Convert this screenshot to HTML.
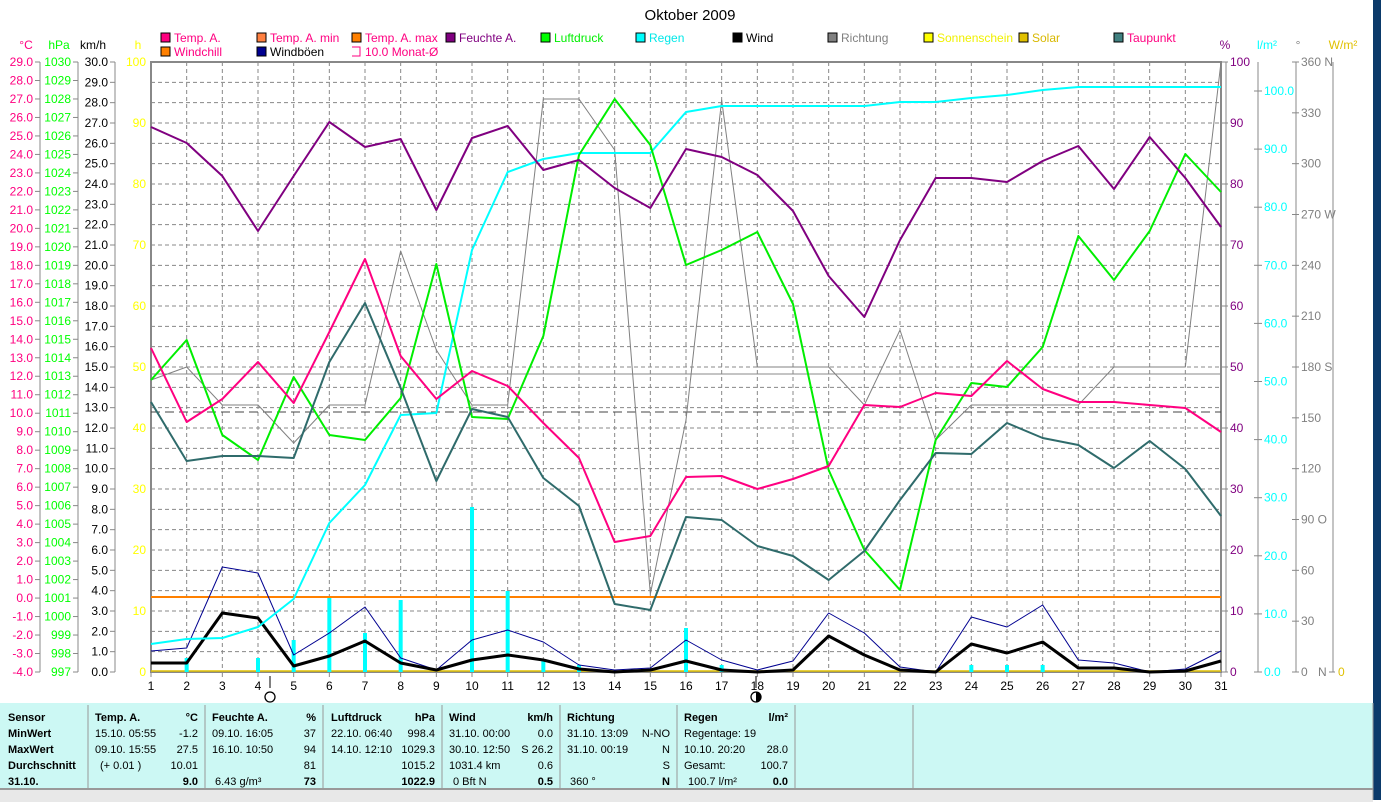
<!DOCTYPE html>
<html><head><meta charset="utf-8"><style>
body{margin:0;width:1381px;height:800px;overflow:hidden;background:#fff;font-family:"Liberation Sans",sans-serif}
svg{position:absolute;left:0;top:0}
text{font-family:"Liberation Sans",sans-serif}
</style></head><body>
<svg id="s" width="1381" height="800" xmlns="http://www.w3.org/2000/svg"></svg>
<script>
const S=document.getElementById('s');const NS='http://www.w3.org/2000/svg';
function el(t,a,txt){const e=document.createElementNS(NS,t);for(const k in a)e.setAttribute(k,a[k]);if(txt!==undefined)e.textContent=txt;S.appendChild(e);return e;}
function tx(x,y,s,c,anchor,extra){return el('text',Object.assign({x,y,fill:c,'text-anchor':anchor||'start','font-size':'11'},extra||{}),s);}
const L=151,R=1221,T=62,B=672,dx=(R-L)/30;
const X=d=>L+(d-1)*dx;
el('rect',{x:1373,y:0,width:8,height:800,fill:'#0b3a6a'});
tx(690,20,'Oktober 2009','#000','middle',{'font-size':'15'});
const leg=[[161,38,'#ff0080','Temp. A.','#ff0080'],[257,38,'#ff8040','Temp. A. min','#ff0080'],[352,38,'#ff8000','Temp. A. max','#ff0080'],[446,38,'#800080','Feuchte A.','#800080'],[541,38,'#00ff00','Luftdruck','#00ee00'],[636,38,'#00ffff','Regen','#00e8e8'],[733,38,'#000','Wind','#000'],[828,38,'#808080','Richtung','#808080'],[924,38,'#ffff00','Sonnenschein','#f0f000'],[1019,38,'#e0c000','Solar','#d8b800'],[1114,38,'#408080','Taupunkt','#ff0080'],[161,52,'#ff8000','Windchill','#ff0080'],[257,52,'#000090','Windböen','#000']];
leg.forEach(l=>{el('rect',{x:l[0],y:l[1]-5,width:9,height:9,fill:l[2],stroke:'#000','stroke-width':1});tx(l[0]+13,l[1]+4,l[3],l[4],'start',{'font-size':'12'});});
el('path',{d:'M352 47 h8 v9 h-8',fill:'none',stroke:'#ff0080'});tx(365,56,'10.0 Monat-Ø','#ff0080','start',{'font-size':'12'});
for(let i=1;i<30;i++){el('line',{x1:L,x2:R,y1:T+i*(B-T)/30,y2:T+i*(B-T)/30,stroke:'#888','stroke-dasharray':'4,3'});}
for(let d=2;d<31;d++){el('line',{x1:X(d),x2:X(d),y1:T,y2:B,stroke:'#888','stroke-dasharray':'4,3'});}
el('rect',{x:L,y:T,width:R-L,height:B-T,fill:'none',stroke:'#888','stroke-width':2});
function axis(xl,col,ys,labels){el('line',{x1:xl,x2:xl,y1:T,y2:B,stroke:'#888'});
 labels.forEach((s,i)=>{const y=ys[i];el('line',{x1:xl-5,x2:xl,y1:y,y2:y,stroke:'#888'});tx(xl-7,y+4,s,col,'end',{'font-size':'12'});});}
const ys33=[...Array(34).keys()].map(i=>T+i*(B-T)/33);
axis(40,'#ff0080',ys33,ys33.map((y,i)=>(29-i).toFixed(1)));
axis(78,'#00ff00',ys33,ys33.map((y,i)=>String(1030-i)));
const ys30=[...Array(31).keys()].map(i=>T+i*(B-T)/30);
axis(115,'#000',ys30,ys30.map((y,i)=>(30-i).toFixed(1)));
const ys10=[...Array(11).keys()].map(i=>T+i*(B-T)/10);
ys10.forEach((y,i)=>tx(146,y+4,String(100-i*10),'#ffff00','end',{'font-size':'12'}));
tx(26,49,'°C','#ff0080','middle',{'font-size':'12'});tx(59,49,'hPa','#00ff00','middle',{'font-size':'12'});tx(93,49,'km/h','#000','middle',{'font-size':'12'});tx(138,49,'h','#ffff00','middle',{'font-size':'12'});
el('line',{x1:1226,x2:1226,y1:T,y2:B,stroke:'#888'});
ys10.forEach((y,i)=>{el('line',{x1:1221,x2:1228,y1:y,y2:y,stroke:'#888'});tx(1230,y+4,String(100-i*10),'#800080','start',{'font-size':'12'});});
el('line',{x1:1258,x2:1258,y1:T,y2:B,stroke:'#888'});
for(let i=0;i<=10;i++){const y=B-i*58.1;el('line',{x1:1254,x2:1262,y1:y,y2:y,stroke:'#888'});tx(1264,y+4,(i*10).toFixed(1),'#00ffff','start',{'font-size':'12'});}
el('line',{x1:1296,x2:1296,y1:T,y2:B,stroke:'#888'});
const dl=['360 N','330','300','270 W','240','210','180 S','150','120','90  O','60','30','0'];
dl.forEach((s,i)=>{const y=T+i*(B-T)/12;el('line',{x1:1292,x2:1299,y1:y,y2:y,stroke:'#888'});tx(1301,y+4,s,'#808080','start',{'font-size':'12'});});
tx(1318,676,'N','#808080','start',{'font-size':'12'});
el('line',{x1:1333,x2:1333,y1:T,y2:B,stroke:'#888'});el('line',{x1:1329,x2:1335,y1:B,y2:B,stroke:'#888'});tx(1338,676,'0','#e0c000','start',{'font-size':'12'});
tx(1225,49,'%','#800080','middle',{'font-size':'12'});tx(1267,49,'l/m²','#00ffff','middle',{'font-size':'12'});tx(1298,49,'°','#808080','middle',{'font-size':'12'});tx(1343,49,'W/m²','#e0c000','middle',{'font-size':'12'});
for(let d=1;d<=31;d++){el('line',{x1:X(d),x2:X(d),y1:B,y2:B+5,stroke:'#888'});tx(X(d),690,String(d),'#000','middle',{'font-size':'12'});}
el('line',{x1:270,x2:270,y1:676,y2:688,stroke:'#000'});
el('circle',{cx:270,cy:697,r:5,fill:'none',stroke:'#000','stroke-width':1.3});
el('circle',{cx:756,cy:697,r:5,fill:'#fff',stroke:'#000','stroke-width':1.3});el('path',{d:'M756 692 a5 5 0 0 1 0 10z',fill:'#000'});
el('line',{x1:756,x2:756,y1:676,y2:688,stroke:'#000'});
el('line',{x1:L,x2:R,y1:374,y2:374,stroke:'#888'});
el('line',{x1:L,x2:R,y1:412,y2:412,stroke:'#444','stroke-dasharray':'9,5'});
el('line',{x1:L,x2:R,y1:597,y2:597,stroke:'#ff8000','stroke-width':2});
el('line',{x1:L,x2:R,y1:671,y2:671,stroke:'#e0c000','stroke-width':1.5});
function line(a,c,w){el('polyline',{points:a.map((y,i)=>X(i+1)+','+y).join(' '),fill:'none',stroke:c,'stroke-width':w,'stroke-linejoin':'round'});}
[[2,658],[4,658],[5,640],[6,598],[7,633],[8,600],[10,507],[11,591],[12,660],[13,665],[16,628],[17,665],[24,665],[25,665],[26,665]].forEach(b=>el('rect',{x:X(b[0])-2,y:b[1],width:4,height:B-b[1],fill:'#00ffff'}));
line([380,367,405,405,443,405,405,251,350,405,405,99,99,150,594,420,100,367,367,367,405,330,440,405,405,405,405,367,367,367,62],'#808080',1);
line([651,648,567,573,655,633,607,658,670,640,630,642,665,670,668,640,660,670,661,613,633,667,672,617,627,605,660,663,672,669,651],'#000090',1);
line([663,663,613,618,666,656,641,663,670,660,655,660,669,672,670,661,670,672,670,636,655,670,672,644,653,642,668,668,672,671,661],'#000',3);
line([644,639,638,627,599,523,485,415,413,250,172,159,153,153,153,112,106,106,106,106,106,102,102,98,95,90,87,87,87,87,87],'#00ffff',2);
line([380,340,435,460,377,435,440,398,264,417,419,336,155,99,145,265,250,232,304,470,550,590,440,383,387,347,236,280,231,154,192],'#00ee00',2);
line([402,461,456,456,458,362,303,388,481,409,417,478,506,604,610,517,520,546,556,580,551,500,453,454,423,438,445,468,441,469,516],'#2f6b6b',2);
line([348,422,399,362,403,332,259,356,399,371,386,423,458,542,536,477,476,489,479,466,405,407,393,396,361,389,402,402,405,408,432],'#ff0080',2);
line([127,143,176,231,176,122,147,139,210,138,126,170,160,188,208,149,157,175,211,276,317,240,178,178,182,161,146,189,137,178,227],'#800080',2);
</script>
<div style="position:absolute;left:0;top:703px;width:1373px;height:97px;background:#ccf8f4">
<div style="position:absolute;left:0;top:85px;width:1373px;height:12px;border-top:2px solid #999;background:#e8e8e8"></div>
</div>
<svg width="1381" height="800" style="position:absolute;left:0;top:0">
<g stroke="#999">
<line x1="88" y1="705" x2="88" y2="790"/><line x1="205" y1="705" x2="205" y2="790"/><line x1="323" y1="705" x2="323" y2="790"/><line x1="442" y1="705" x2="442" y2="790"/><line x1="560" y1="705" x2="560" y2="790"/><line x1="677" y1="705" x2="677" y2="790"/><line x1="795" y1="705" x2="795" y2="790"/><line x1="913" y1="705" x2="913" y2="790"/><line x1="1373" y1="703" x2="1373" y2="800"/>
</g>
<g font-family="Liberation Sans" font-size="11" fill="#000">
<g font-weight="bold"><text x="8" y="721">Sensor</text><text x="8" y="737">MinWert</text><text x="8" y="753">MaxWert</text><text x="8" y="769">Durchschnitt</text><text x="8" y="785">31.10.</text>
<text x="95" y="721">Temp. A.</text><text x="198" y="721" text-anchor="end">°C</text><text x="212" y="721">Feuchte A.</text><text x="316" y="721" text-anchor="end">%</text><text x="331" y="721">Luftdruck</text><text x="435" y="721" text-anchor="end">hPa</text><text x="449" y="721">Wind</text><text x="553" y="721" text-anchor="end">km/h</text><text x="567" y="721">Richtung</text><text x="684" y="721">Regen</text><text x="788" y="721" text-anchor="end">l/m²</text>
<text x="198" y="785" text-anchor="end">9.0</text><text x="316" y="785" text-anchor="end">73</text><text x="435" y="785" text-anchor="end">1022.9</text><text x="553" y="785" text-anchor="end">0.5</text><text x="670" y="785" text-anchor="end">N</text><text x="788" y="785" text-anchor="end">0.0</text></g>
<text x="95" y="737">15.10.  05:55</text><text x="198" y="737" text-anchor="end">-1.2</text><text x="95" y="753">09.10.  15:55</text><text x="198" y="753" text-anchor="end">27.5</text><text x="100" y="769">(+ 0.01 )</text><text x="198" y="769" text-anchor="end">10.01</text>
<text x="212" y="737">09.10.  16:05</text><text x="316" y="737" text-anchor="end">37</text><text x="212" y="753">16.10.  10:50</text><text x="316" y="753" text-anchor="end">94</text><text x="316" y="769" text-anchor="end">81</text><text x="215" y="785">6.43 g/m³</text>
<text x="331" y="737">22.10.  06:40</text><text x="435" y="737" text-anchor="end">998.4</text><text x="331" y="753">14.10.  12:10</text><text x="435" y="753" text-anchor="end">1029.3</text><text x="435" y="769" text-anchor="end">1015.2</text>
<text x="449" y="737">31.10.  00:00</text><text x="553" y="737" text-anchor="end">0.0</text><text x="449" y="753">30.10.  12:50</text><text x="553" y="753" text-anchor="end">S 26.2</text><text x="449" y="769">1031.4 km</text><text x="553" y="769" text-anchor="end">0.6</text><text x="453" y="785">0 Bft N</text>
<text x="567" y="737">31.10.  13:09</text><text x="670" y="737" text-anchor="end">N-NO</text><text x="567" y="753">31.10.  00:19</text><text x="670" y="753" text-anchor="end">N</text><text x="670" y="769" text-anchor="end">S</text><text x="570" y="785">360 °</text>
<text x="684" y="737">Regentage: 19</text><text x="684" y="753">10.10.  20:20</text><text x="788" y="753" text-anchor="end">28.0</text><text x="684" y="769">Gesamt:</text><text x="788" y="769" text-anchor="end">100.7</text><text x="688" y="785">100.7 l/m²</text>
</g></svg>
</body></html>
